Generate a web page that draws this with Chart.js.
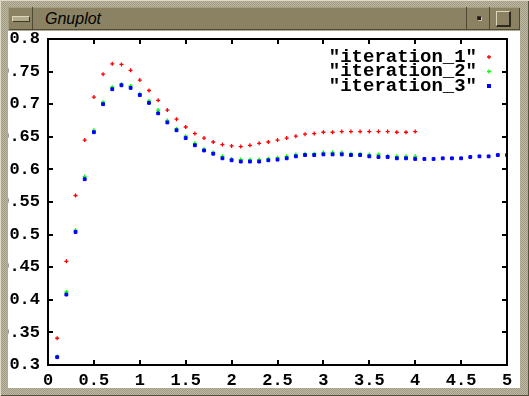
<!DOCTYPE html>
<html>
<head>
<meta charset="utf-8">
<title>Gnuplot</title>
<script src="https://cdn.jsdelivr.net/npm/chart.js@4/dist/chart.umd.min.js"></script>
<style>
  html, body { margin: 0; padding: 0; }
  #win {
    position: relative; width: 529px; height: 396px; overflow: hidden;
    background: repeating-conic-gradient(#bcb8a2 0 25%, #a09c85 0 50%) 0 0 / 2px 2px;
    box-shadow: inset 1px 1px 0 #dedac6, inset -1px -1px 0 #55513d;
  }
  #titlebar {
    position: absolute; left: 8px; top: 7px; width: 512px; height: 23px;
    background: #8a8262; box-shadow: inset 1px 1px 0 #a59d7c, inset -1px -1px 0 #4e4a36;
  }
  .seg { position: absolute; top: 0; height: 23px; box-sizing: border-box; }
  #menuBtn { left: 0; width: 25px; border-right: 1px solid #4e4a36; }
  #menuBar {
    position: absolute; left: 4px; top: 9px; width: 16px; height: 4px;
    background: #b3ac8d; border-top: 1px solid #ddd6b8; border-left: 1px solid #ddd6b8;
    border-bottom: 1px solid #3c3928; border-right: 1px solid #3c3928;
  }
  #caption {
    position: absolute; left: 37px; top: 2px; font: italic 16px "Liberation Sans", Arial, sans-serif;
    color: #000; line-height: 20px;
  }
  #iconBtn { left: 458px; width: 24px; border-left: 1px solid #4e4a36; border-right: 1px solid #4e4a36; }
  #iconDot { position: absolute; left: 10px; top: 9px; width: 3px; height: 3px; background: #1a1a12; border: 1px solid #c8c1a2; border-top-color: #3c3928; border-left-color: #3c3928; }
  #maxBtn { left: 482px; width: 30px; }
  #maxBox {
    position: absolute; left: 6px; top: 4px; width: 12px; height: 13px;
    border-top: 1px solid #ddd6b8; border-left: 1px solid #ddd6b8;
    border-bottom: 2px solid #2c2a1e; border-right: 2px solid #2c2a1e;
  }
  #plot { position: absolute; left: 8px; top: 31px; width: 512px; height: 357px; background: #fff; }
  #plot canvas { display: block; }
</style>
</head>
<body>
<div id="win">
  <div id="titlebar">
    <div class="seg" id="menuBtn"><div id="menuBar"></div></div>
    <div id="caption">Gnuplot</div>
    <div class="seg" id="iconBtn"><div id="iconDot"></div></div>
    <div class="seg" id="maxBtn"><div id="maxBox"></div></div>
  </div>
  <div id="plot"><canvas id="chart" width="512" height="357"></canvas></div>
</div>
<script>
// values, one point every 0.1
const xValues = [
  0.1, 0.2, 0.3, 0.4, 0.5, 0.6, 0.7, 0.8, 0.9, 1.0,
  1.1, 1.2, 1.3, 1.4, 1.5, 1.6, 1.7, 1.8, 1.9, 2.0,
  2.1, 2.2, 2.3, 2.4, 2.5, 2.6, 2.7, 2.8, 2.9, 3.0,
  3.1, 3.2, 3.3, 3.4, 3.5, 3.6, 3.7, 3.8, 3.9, 4.0,
  4.1, 4.2, 4.3, 4.4, 4.5, 4.6, 4.7, 4.8, 4.9, 5.0
];
const iteration1 = [
  0.341, 0.459, 0.560, 0.645, 0.711, 0.746, 0.762, 0.761, 0.752, 0.737,
  0.721, 0.706, 0.691, 0.677, 0.665, 0.655, 0.648, 0.642, 0.638, 0.636,
  0.635, 0.637, 0.640, 0.642, 0.645, 0.648, 0.651, 0.654, 0.655, 0.657,
  0.657, 0.658, 0.658, 0.658, 0.658, 0.658, 0.658, 0.657, 0.657, 0.658
];
const iteration2 = [
  0.313, 0.412, 0.507, 0.589, 0.660, 0.703, 0.726, 0.731, 0.728, 0.716,
  0.705, 0.691, 0.675, 0.662, 0.651, 0.640, 0.631, 0.626, 0.620, 0.616,
  0.615, 0.615, 0.615, 0.616, 0.618, 0.620, 0.623, 0.624, 0.624, 0.626,
  0.626, 0.626, 0.624, 0.624, 0.623, 0.623, 0.621, 0.620, 0.620, 0.620
];
const iteration3 = [
  0.312, 0.408, 0.504, 0.585, 0.657, 0.700, 0.723, 0.729, 0.725, 0.714,
  0.702, 0.686, 0.672, 0.660, 0.648, 0.637, 0.629, 0.624, 0.617, 0.614,
  0.612, 0.612, 0.612, 0.614, 0.615, 0.617, 0.620, 0.622, 0.622, 0.623,
  0.623, 0.623, 0.622, 0.622, 0.620, 0.619, 0.619, 0.617, 0.617, 0.616,
  0.616, 0.616, 0.617, 0.617, 0.617, 0.619, 0.620, 0.620, 0.622, 0.622
];
const seriesLabels = ['"iteration_1"', '"iteration_2"', '"iteration_3"'];
const xTickValues = [0, 0.5, 1, 1.5, 2, 2.5, 3, 3.5, 4, 4.5, 5];
const yTickValues = [0.3, 0.35, 0.4, 0.45, 0.5, 0.55, 0.6, 0.65, 0.7, 0.75, 0.8];

const tickFont = { family: '"Liberation Mono", "DejaVu Sans Mono", monospace', size: 17, weight: 'bold' };

function toPoints(ys) {
  return ys.map((y, i) => ({ x: xValues[i], y: y }));
}
function fmt(v) {
  return String(parseFloat(Number(v).toFixed(2)));
}

// gnuplot style border, inward ticks and key
const gnuplotFrame = {
  id: 'gnuplotFrame',
  afterDraw(chart) {
    const ctx = chart.ctx;
    const a = chart.chartArea;
    const sx = chart.scales.x, sy = chart.scales.y;
    ctx.save();
    ctx.strokeStyle = '#000';
    ctx.lineWidth = 2;
    ctx.strokeRect(a.left, a.top, a.right - a.left, a.bottom - a.top);
    ctx.beginPath();
    xTickValues.forEach(v => {
      const p = Math.round(sx.getPixelForValue(v));
      ctx.moveTo(p, a.bottom); ctx.lineTo(p, a.bottom - 5);
      ctx.moveTo(p, a.top); ctx.lineTo(p, a.top + 5);
    });
    yTickValues.forEach(v => {
      const p = Math.round(sy.getPixelForValue(v));
      ctx.moveTo(a.left, p); ctx.lineTo(a.left + 5, p);
      ctx.moveTo(a.right, p); ctx.lineTo(a.right - 5, p);
    });
    ctx.stroke();

    ctx.font = 'bold 19px "Liberation Mono", "DejaVu Sans Mono", monospace';
    ctx.textAlign = 'right';
    ctx.textBaseline = 'middle';
    chart.data.datasets.forEach((ds, i) => {
      const y = a.top + 18 + i * 14.5;
      const mx = a.right - 18;
      ctx.fillStyle = '#000';
      ctx.fillText(ds.label, a.right - 30, y);
      if (ds.pointStyle === 'rect') {
        ctx.fillStyle = ds.backgroundColor;
        ctx.fillRect(mx - 2, y - 2, 4, 4);
      } else {
        ctx.strokeStyle = ds.borderColor;
        ctx.lineWidth = 1.3;
        ctx.beginPath();
        ctx.moveTo(mx - 2, y); ctx.lineTo(mx + 2, y);
        ctx.moveTo(mx, y - 2); ctx.lineTo(mx, y + 2);
        ctx.stroke();
      }
    });
    ctx.restore();
  }
};

new Chart(document.getElementById('chart'), {
  type: 'scatter',
  data: {
    datasets: [{
      label: seriesLabels[0],
      data: toPoints(iteration1),
      pointStyle: 'cross',
      pointRadius: 2,
      borderWidth: 1.3,
      borderColor: '#ff0000',
      backgroundColor: '#ff0000',
      order: 2
    }, {
      label: seriesLabels[1],
      data: toPoints(iteration2),
      pointStyle: 'cross',
      pointRadius: 2,
      borderWidth: 1.3,
      borderColor: '#00ff00',
      backgroundColor: '#00ff00',
      order: 1
    }, {
      label: seriesLabels[2],
      data: toPoints(iteration3),
      pointStyle: 'rect',
      pointRadius: 2,
      borderWidth: 1,
      borderColor: '#0000ff',
      backgroundColor: '#0000ff',
      order: 0
    }]
  },
  options: {
    responsive: false,
    animation: false,
    devicePixelRatio: 1,
    layout: { padding: { top: 8, right: 13, bottom: 0, left: 0 } },
    plugins: { legend: { display: false }, tooltip: { enabled: false } },
    scales: {
      x: {
        type: 'linear', min: 0, max: 5,
        afterBuildTicks: s => { s.ticks = xTickValues.map(v => ({ value: v })); },
        afterFit: s => { s.height = 23; s.paddingLeft = 0; s.paddingRight = 0; },
        grid: { display: false, drawTicks: false },
        border: { display: false },
        ticks: { color: '#000', font: tickFont, padding: 6, maxRotation: 0, autoSkip: false, callback: v => fmt(v) }
      },
      y: {
        type: 'linear', min: 0.3, max: 0.8,
        afterBuildTicks: s => { s.ticks = yTickValues.map(v => ({ value: v })); },
        afterFit: s => { s.width = 40; s.paddingTop = 0; s.paddingBottom = 0; },
        grid: { display: false, drawTicks: false },
        border: { display: false },
        ticks: { color: '#000', font: tickFont, padding: 8, autoSkip: false, callback: v => fmt(v) }
      }
    }
  },
  plugins: [gnuplotFrame]
});
</script>
</body>
</html>
